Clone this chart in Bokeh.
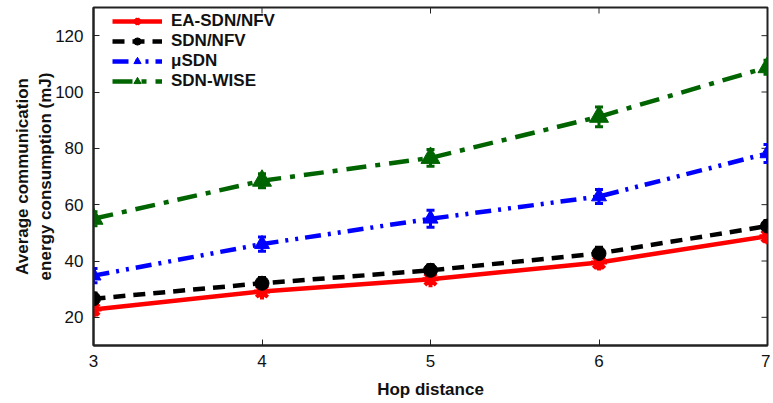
import math
from bokeh.plotting import figure
from bokeh.models import Range1d, FixedTicker, Legend, LegendItem, ColumnDataSource, Whisker, TeeHead
from bokeh.embed import file_html
from bokeh.resources import INLINE

hops = [3, 4, 5, 6, 7]
ea_sdn_nfv = [22.8, 29.2, 33.5, 39.5, 48.8]
ea_err = [2.0, 1.5, 1.5, 2.0, 2.0]
sdn_nfv = [26.6, 32.1, 36.7, 42.7, 52.4]
sdn_err = [2.0, 2.0, 2.0, 2.2, 2.0]
usdn = [34.8, 46.0, 55.0, 62.9, 78.2]
usdn_err = [2.5, 2.5, 3.0, 2.5, 3.2]
sdn_wise = [55.0, 68.5, 76.6, 91.2, 108.8]
wise_err = [2.5, 2.5, 3.0, 3.5, 2.5]

x_ticks = [3, 4, 5, 6, 7]
y_ticks = [20, 40, 60, 80, 100, 120]
X_MIN, X_MAX, Y_MIN, Y_MAX = 3, 7, 10, 130

FONT = "Liberation Sans"
AX = "#222222"

p = figure(width=770, height=403, output_backend="svg", toolbar_location=None,
           x_range=Range1d(X_MIN, X_MAX), y_range=Range1d(Y_MIN, Y_MAX),
           min_border_left=93, min_border_right=3, min_border_top=7, min_border_bottom=58)
p.grid.visible = False
p.outline_line_color = AX
p.outline_line_width = 2

for ax in p.xaxis + p.yaxis:
    ax.major_tick_in = 6
    ax.major_tick_out = 0
    ax.minor_tick_line_color = None
    ax.axis_line_color = AX
    ax.axis_line_width = 2
    ax.major_tick_line_color = AX
    ax.major_label_text_font = FONT
    ax.major_label_text_font_size = "17px"
    ax.major_label_text_color = "#111111"
    ax.axis_label_text_font = FONT
    ax.axis_label_text_font_style = "bold"
    ax.axis_label_text_font_size = "17px"
    ax.axis_label_text_color = "#111111"

p.xaxis.ticker = FixedTicker(ticks=x_ticks)
p.yaxis.ticker = FixedTicker(ticks=y_ticks)
p.xaxis.axis_label = "Hop distance"
p.yaxis.axis_label = "Average communication\nenergy consumption (mJ)"
p.xaxis.major_label_standoff = 9
p.yaxis.major_label_standoff = 10
p.xaxis.axis_label_standoff = 10
p.yaxis.axis_label_standoff = -3

# mirrored ticks on top and right edges
p.ray(x=x_ticks, y=[Y_MAX] * len(x_ticks), length=6, length_units="screen",
      angle=-math.pi / 2, line_color=AX, line_width=1)
p.ray(x=[X_MAX] * len(y_ticks), y=y_ticks, length=6, length_units="screen",
      angle=math.pi, line_color=AX, line_width=1)

series = [
    ("EA-SDN/NFV", ea_sdn_nfv, ea_err, "#ff0000", "solid", "asterisk", 16),
    ("SDN/NFV", sdn_nfv, sdn_err, "#000000", "12 8", "circle", 14),
    ("μSDN", usdn, usdn_err, "#0000ff", "16 7 3 7 3 7", "triangle", 15),
    ("SDN-WISE", sdn_wise, wise_err, "#006400", "20 9 5 9", "triangle", 19),
]

items = []
for name, ys, err, col, dash, mk, sz in series:
    src = ColumnDataSource(dict(x=hops, y=ys,
                                lo=[a - b for a, b in zip(ys, err)],
                                hi=[a + b for a, b in zip(ys, err)]))
    w = Whisker(source=src, base="x", lower="lo", upper="hi",
                line_color=col, line_width=3,
                lower_head=TeeHead(size=8, line_color=col, line_width=3),
                upper_head=TeeHead(size=8, line_color=col, line_width=3))
    p.add_layout(w)
    ln = p.line("x", "y", source=src, line_color=col, line_width=4.5, line_dash=dash)
    if mk == "asterisk":
        sc = p.scatter("x", "y", source=src, marker="asterisk", size=sz,
                       line_color=col, line_width=4)
    else:
        sc = p.scatter("x", "y", source=src, marker=mk, size=sz,
                       fill_color=col, line_color=col, line_width=1)
    items.append(LegendItem(label=name, renderers=[ln, sc]))

leg = Legend(items=items, location=(19, 254), margin=0, padding=0,
             glyph_width=50, glyph_height=18, label_height=18, spacing=0,
             label_text_font=FONT, label_text_font_style="bold",
             label_text_font_size="17px", label_text_color="#111111",
             label_standoff=9, border_line_color=None, background_fill_alpha=0)
p.add_layout(leg)

open("out.html", "w").write(file_html(p, INLINE))
